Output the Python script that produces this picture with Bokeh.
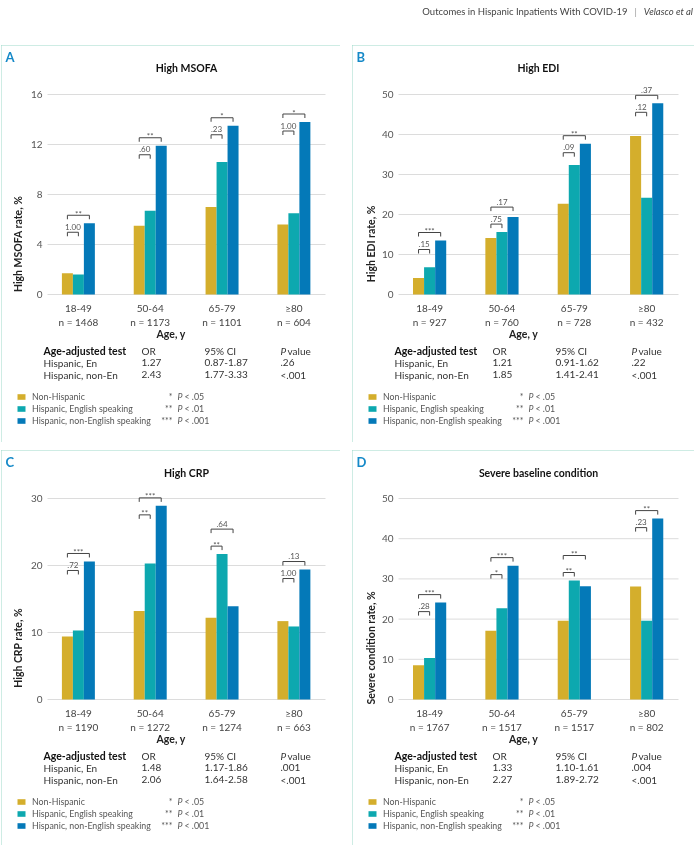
from bokeh.plotting import figure
from bokeh.models import ColumnDataSource, Label, Legend, LegendItem, Div, Spacer, Range1d
from bokeh.layouts import row, column
from bokeh.transform import dodge
from bokeh.core.properties import value
from bokeh.embed import file_html
from bokeh.resources import INLINE

FONT = "Lato"

# ---------------- data ----------------
age_groups = ["18-49", "50-64", "65-79", "≥80"]
series_names = ["Non-Hispanic", "Hispanic, English speaking", "Hispanic, non-English speaking"]
series_colors = ["#D4AE2C", "#0DA8AF", "#0479B8"]
table_rows = ["Hispanic, En", "Hispanic, non-En"]
sig_stars = ["*", "**", "***"]
sig_thresholds = ["< .05", "< .01", "< .001"]

# Panel A
a_title = "High MSOFA"
a_ylabel = "High MSOFA rate, %"
a_n = [1468, 1173, 1101, 604]
a_non_hisp = [1.7, 5.5, 7.0, 5.6]
a_hisp_en = [1.6, 6.7, 10.6, 6.5]
a_hisp_non_en = [5.7, 11.9, 13.5, 13.8]
a_p_en = ["1.00", ".60", ".23", "1.00"]
a_p_non_en = ["**", "**", "*", "*"]
a_yticks = [0, 4, 8, 12, 16]
a_or = ["1.27", "2.43"]
a_ci = ["0.87-1.87", "1.77-3.33"]
a_pval = [".26", "<.001"]

# Panel B
b_title = "High EDI"
b_ylabel = "High EDI rate, %"
b_n = [927, 760, 728, 432]
b_non_hisp = [4.1, 14.1, 22.7, 39.6]
b_hisp_en = [6.8, 15.6, 32.4, 24.2]
b_hisp_non_en = [13.5, 19.4, 37.7, 47.8]
b_p_en = [".15", ".75", ".09", ".12"]
b_p_non_en = ["***", ".17", "**", ".37"]
b_yticks = [0, 10, 20, 30, 40, 50]
b_or = ["1.21", "1.85"]
b_ci = ["0.91-1.62", "1.41-2.41"]
b_pval = [".22", "<.001"]

# Panel C
c_title = "High CRP"
c_ylabel = "High CRP rate, %"
c_n = [1190, 1272, 1274, 663]
c_non_hisp = [9.4, 13.2, 12.2, 11.7]
c_hisp_en = [10.3, 20.3, 21.7, 10.9]
c_hisp_non_en = [20.6, 28.9, 13.9, 19.4]
c_p_en = [".72", "**", "**", "1.00"]
c_p_non_en = ["***", "***", ".64", ".13"]
c_yticks = [0, 10, 20, 30]
c_or = ["1.48", "2.06"]
c_ci = ["1.17-1.86", "1.64-2.58"]
c_pval = [".001", "<.001"]

# Panel D
d_title = "Severe baseline condition"
d_ylabel = "Severe condition rate, %"
d_n = [1767, 1517, 1517, 802]
d_non_hisp = [8.5, 17.1, 19.6, 28.1]
d_hisp_en = [10.3, 22.7, 29.6, 19.6]
d_hisp_non_en = [24.1, 33.3, 28.2, 45.0]
d_p_en = [".28", "*", "**", ".23"]
d_p_non_en = ["***", "***", "**", "**"]
d_yticks = [0, 10, 20, 30, 40, 50]
d_or = ["1.33", "2.27"]
d_ci = ["1.10-1.61", "1.89-2.72"]
d_pval = [".004", "<.001"]

BAR_W = 0.153
X_LO, X_HI = -0.43, 3.44
BORDER = "#9cd8c8"


def make_panel(letter, title, ylabel, n, non_hisp, hisp_en, hisp_non_en, p_en, p_non_en,
               yticks, or_vals, ci_vals, p_vals, width, height, right_border, bottom_border,
               plot_px, ylabel_standoff):
    left_border = 46
    ymax = yticks[-1]
    ppu = plot_px / ymax
    chart_w = width - left_border - right_border
    kx = chart_w / (X_HI - X_LO)
    x_range = Range1d(X_LO - left_border / kx, X_HI + right_border / kx)
    y_range = Range1d(-bottom_border / ppu, (height - bottom_border) / ppu)

    p = figure(width=width, height=height, x_range=x_range, y_range=y_range,
               output_backend="svg", toolbar_location=None, title=None,
               min_border=0, min_border_left=0, min_border_right=0,
               min_border_top=0, min_border_bottom=0,
               outline_line_color=None, background_fill_color="white", border_fill_color="white",
               margin=0,
               styles={"outline": "1px solid " + BORDER, "outline-offset": "-1px"})

    def note(dx, dy, text, size, color="#222", style="normal", align="left", baseline="middle"):
        p.add_layout(Label(x=left_border + dx, y=bottom_border + dy, x_units="screen", y_units="screen",
                           text=text, text_font=FONT, text_font_size=size, text_color=color,
                           text_font_style=style, text_align=align, text_baseline=baseline))

    # horizontal grid lines at the y ticks, spanning the chart area only
    p.segment(x0=[X_LO] * len(yticks), x1=[X_HI] * len(yticks), y0=yticks, y1=yticks,
              line_color="#dcdcdc", line_width=1)

    src = ColumnDataSource(dict(x=list(range(len(age_groups))), g=non_hisp, t=hisp_en, b=hisp_non_en))
    rends = []
    for key, off, color in zip(["g", "t", "b"], [-BAR_W, 0, BAR_W], series_colors):
        r = p.vbar(x=dodge("x", off), top=key, width=BAR_W, source=src,
                   fill_color=color, line_color=None)
        rends.append(r)

    # significance brackets
    gap, step, tick = 8 / ppu, 17 / ppu, 4 / ppu
    xs, ys = [], []
    num_x, num_y, num_t = [], [], []
    star_x, star_y, star_t = [], [], []
    for i in range(len(age_groups)):
        long_y = max(hisp_non_en[i] + gap, max(non_hisp[i], hisp_en[i]) + gap + step)
        short_y = long_y - step
        for x0, x1, yb, txt in [(i - BAR_W, i, short_y, p_en[i]), (i - BAR_W, i + BAR_W, long_y, p_non_en[i])]:
            xs.append([x0, x0, x1, x1])
            ys.append([yb - tick, yb, yb, yb - tick])
            if txt.startswith("*"):
                star_x.append((x0 + x1) / 2)
                star_y.append(yb - 3.5 / ppu)
                star_t.append(txt)
            else:
                num_x.append((x0 + x1) / 2)
                num_y.append(yb + 2.5 / ppu)
                num_t.append(txt)
    p.multi_line(xs=xs, ys=ys, line_color="#444444", line_width=1)
    p.text(x=num_x, y=num_y, text=num_t, text_font=value(FONT), text_font_size="8px",
           text_color="#555555", text_align="center", text_baseline="bottom")
    p.text(x=star_x, y=star_y, text=star_t, text_font=value(FONT), text_font_size="8px",
           text_color="#555555", text_align="center", text_baseline="bottom")

    # axes (placed at the chart's edges inside the canvas)
    p.xgrid.visible = False
    p.ygrid.visible = False
    p.yaxis.fixed_location = X_LO
    p.yaxis.ticker = yticks
    p.yaxis.axis_line_color = None
    p.yaxis.major_tick_line_color = None
    p.yaxis.minor_tick_line_color = None
    p.yaxis.major_tick_out = 0
    p.yaxis.major_tick_in = 0
    p.yaxis.major_label_standoff = 5
    p.yaxis.major_label_text_font = FONT
    p.yaxis.major_label_text_font_size = "10px"
    p.yaxis.major_label_text_color = "#555555"
    p.yaxis.axis_label = ylabel
    p.yaxis.axis_label_text_font = FONT
    p.yaxis.axis_label_text_font_size = "10.5px"
    p.yaxis.axis_label_text_font_style = "bold"
    p.yaxis.axis_label_text_color = "#222222"
    p.yaxis.axis_label_standoff = ylabel_standoff

    p.xaxis.fixed_location = 0
    p.xaxis.ticker = list(range(len(age_groups)))
    p.xaxis.major_label_overrides = {i: f"{a}\nn = {nn}" for i, (a, nn) in enumerate(zip(age_groups, n))}
    p.xaxis.axis_line_color = None
    p.xaxis.major_tick_line_color = None
    p.xaxis.minor_tick_line_color = None
    p.xaxis.major_tick_out = 0
    p.xaxis.major_tick_in = 0
    p.xaxis.major_label_standoff = 7
    p.xaxis.major_label_text_font = FONT
    p.xaxis.major_label_text_font_size = "10px"
    p.xaxis.major_label_text_color = "#444444"
    p.xaxis.axis_label = "Age, y"
    p.xaxis.axis_label_text_font = FONT
    p.xaxis.axis_label_text_font_size = "10.5px"
    p.xaxis.axis_label_text_font_style = "bold"
    p.xaxis.axis_label_text_color = "#222222"
    p.xaxis.axis_label_standoff = -3

    # letter + title
    note(-42, 238, letter, "13px", "#1589C8", "bold")
    note(chart_w / 2, 227, title, "10.5px", "#111111", "bold", "center")

    # age-adjusted table
    cols = [-4, 94, 157, 233]
    note(cols[0], -56, "Age-adjusted test", "10.5px", "#111111", "bold")
    note(cols[1], -56, "OR", "10px", "#333333")
    note(cols[2], -56, "95% CI", "10px", "#333333")
    note(cols[3], -56, "P", "10px", "#333333", "italic")
    note(cols[3] + 7, -56, "value", "10px", "#333333")
    for k, (lab, o, c, pv) in enumerate(zip(table_rows, or_vals, ci_vals, p_vals)):
        dy = -68 - 12 * k
        note(cols[0], dy, lab, "10px", "#333333")
        note(cols[1], dy, o, "10px", "#333333")
        note(cols[2], dy, c, "10px", "#333333")
        note(cols[3], dy, pv, "10px", "#333333")

    # legend
    items = [LegendItem(label=nm, renderers=[r]) for nm, r in zip(series_names, rends)]
    leg = Legend(items=items, location=(left_border - 31, bottom_border - 132), orientation="vertical",
                 glyph_width=10, glyph_height=7, label_height=12, label_standoff=6,
                 spacing=0, padding=0, margin=0, border_line_color=None,
                 background_fill_alpha=0, label_text_font=FONT, label_text_font_size="8.8px",
                 label_text_color="#555555")
    p.add_layout(leg)
    for k, (st, th) in enumerate(zip(sig_stars, sig_thresholds)):
        dy = -102 - 12 * k
        note(125, dy, st, "8.8px", "#555555", "normal", "right")
        note(130, dy, "P", "8.8px", "#555555", "italic")
        note(137, dy, th, "8.8px", "#555555")
    return p


pA = make_panel("A", a_title, a_ylabel, a_n, a_non_hisp, a_hisp_en, a_hisp_non_en, a_p_en, a_p_non_en,
                a_yticks, a_or, a_ci, a_pval, 339, 397, 15, 148, 200, 4)
pB = make_panel("B", b_title, b_ylabel, b_n, b_non_hisp, b_hisp_en, b_hisp_non_en, b_p_en, b_p_non_en,
                b_yticks, b_or, b_ci, b_pval, 342, 397, 16, 148, 200, 2)
pC = make_panel("C", c_title, c_ylabel, c_n, c_non_hisp, c_hisp_en, c_hisp_non_en, c_p_en, c_p_non_en,
                c_yticks, c_or, c_ci, c_pval, 339, 395, 15, 146, 201, 4)
pD = make_panel("D", d_title, d_ylabel, d_n, d_non_hisp, d_hisp_en, d_hisp_non_en, d_p_en, d_p_non_en,
                d_yticks, d_or, d_ci, d_pval, 342, 395, 16, 146, 201, 2)

header = Div(text=('<div style="width:693px;text-align:right;padding-top:5px;font-family:Lato;'
                   'font-size:9.5px;color:#444;white-space:nowrap">Outcomes in Hispanic Inpatients With COVID-19'
                   '<span style="color:#999;margin:0 7px">|</span><i>Velasco et al</i></div>'),
             width=696, height=45, margin=0)

root = column(
    header,
    row(Spacer(width=1, height=397), pA, Spacer(width=12, height=397), pB),
    Spacer(width=696, height=8),
    row(Spacer(width=1, height=395), pC, Spacer(width=12, height=395), pD),
    styles={"position": "fixed", "left": "0px", "top": "0px"},
)

open("out.html", "w").write(file_html(root, INLINE))
